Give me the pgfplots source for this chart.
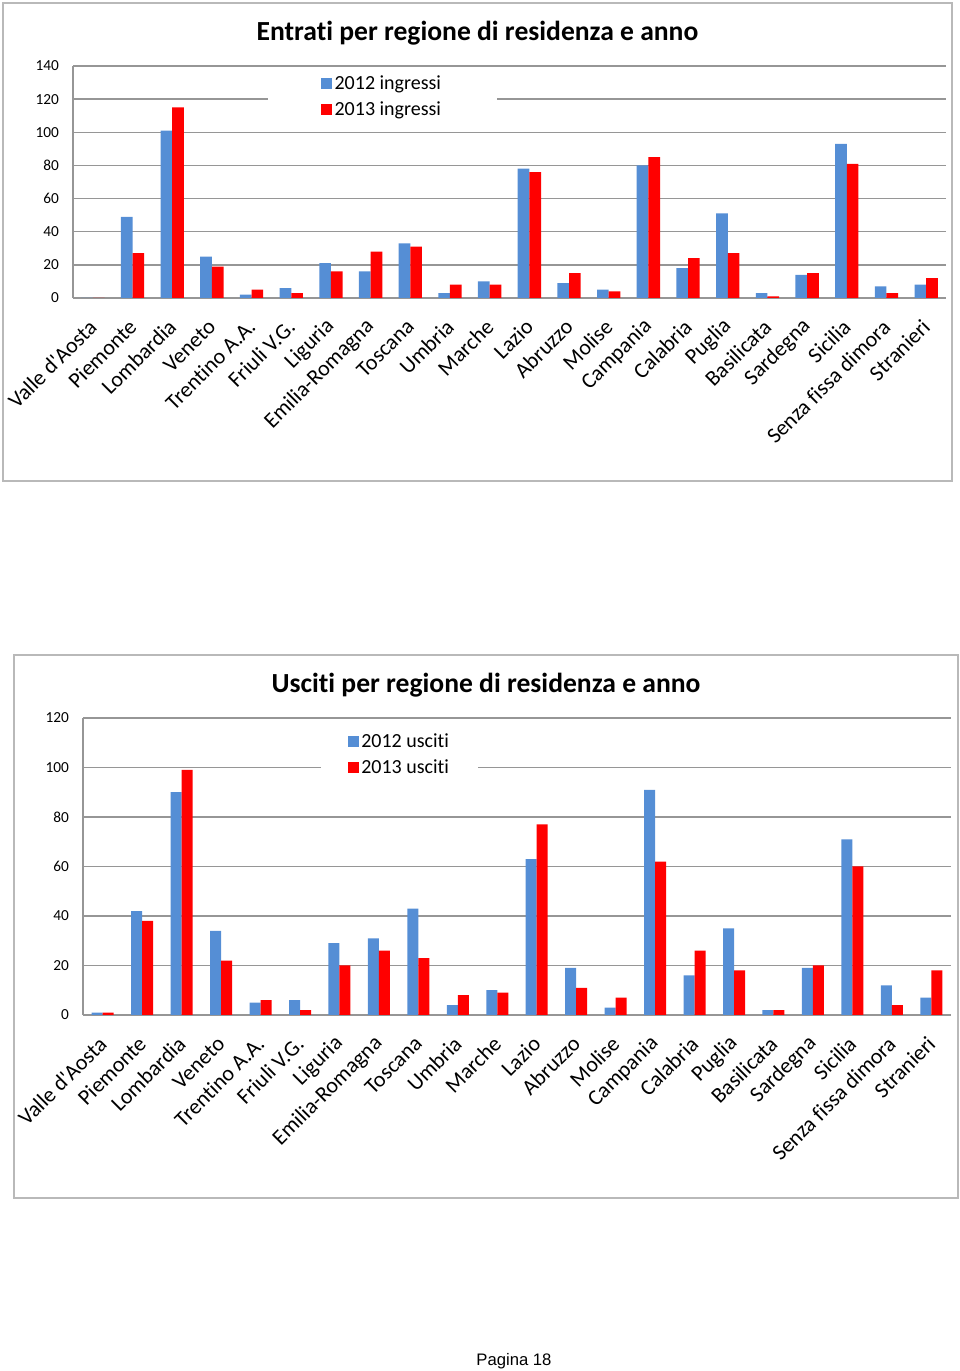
\documentclass[border=0pt]{standalone}
\usepackage{pgfplots}
\usepackage{pgfplotstable}
\pgfplotsset{compat=1.18}
\usepackage{fontspec}
\setmainfont{Carlito}[Ligatures=CommonOff]
\newfontfamily\arialfont{Liberation Sans}
\definecolor{bblue}{RGB}{85,142,213}
\definecolor{rred}{RGB}{255,0,0}
\definecolor{gridgray}{RGB}{150,150,150}
\definecolor{framegray}{RGB}{185,185,185}

\pgfplotstableread{
idx a b
0 0 0
1 49 27
2 101 115
3 25 19
4 2 5
5 6 3
6 21 16
7 16 28
8 33 31
9 3 8
10 10 8
11 78 76
12 9 15
13 5 4
14 80 85
15 18 24
16 51 27
17 3 1
18 14 15
19 93 81
20 7 3
21 8 12
}\dataA

\pgfplotstableread{
idx a b
0 1 1
1 42 38
2 90 99
3 34 22
4 5 6
5 6 2
6 29 20
7 31 26
8 43 23
9 4 8
10 10 9
11 63 77
12 19 11
13 3 7
14 91 62
15 16 26
16 35 18
17 2 2
18 19 20
19 71 60
20 12 4
21 7 18
}\dataB

\pgfplotsset{
  regstyle/.style={
    scale only axis,
    anchor=south west,
    ybar=0pt,
    xmin=-0.5, xmax=21.5,
    enlarge x limits=false,
    ymin=0,
    xtick={0,...,21},
    xticklabels={Valle d\textquotesingle Aosta,Piemonte,Lombardia,Veneto,Trentino A.A.,Friuli V.G.,Liguria,Emilia-Romagna,Toscana,Umbria,Marche,Lazio,Abruzzo,Molise,Campania,Calabria,Puglia,Basilicata,Sardegna,Sicilia,Senza fissa dimora,Stranieri},
    axis x line=bottom, axis y line=left,
    axis line style={-, draw=gridgray, line width=1pt},
    ymajorgrids, grid style={draw=gridgray, line width=1pt},
    major tick length=0pt,
    /pgf/number format/assume math mode=true,
    yticklabel style={font=\fontsize{11.5}{14}\selectfont, anchor=east, xshift=-7pt},
    xticklabel style={font=\fontsize{16.5}{19}\selectfont, xshift=2.5pt, yshift=-16.5pt, rotate=45, anchor=east},
    legend cell align=left,
    legend image code/.code={\fill[##1] (0pt,-4pt) rectangle (8pt,4pt);},
  }
}

\begin{document}
\begin{tikzpicture}
\useasboundingbox (0pt,0pt) rectangle (720pt,1028.25pt);
% frames
\draw[framegray, line width=1.5pt] (2.25pt,667.5pt) rectangle (714pt,1026pt);
\draw[framegray, line width=1.5pt] (10.5pt,129.75pt) rectangle (718.5pt,537pt);

% Chart 1
\begin{axis}[regstyle,
  at={(54.75pt,804.75pt)},
  width=654.75pt, height=174pt,
  ymax=140, ytick={0,20,...,140},
  bar width=8.75pt,
  legend style={at={(0.3545,0.8685)}, anchor=center, draw=none, fill=white,
    font=\fontsize{15}{18}\selectfont, inner xsep=40pt, inner ysep=2pt, row sep=4pt},
]
\addplot[fill=bblue, draw=none] table[x=idx, y=a] {\dataA};
\addplot[fill=rred, draw=none] table[x=idx, y=b] {\dataA};
\legend{2012 ingressi, 2013 ingressi}
\end{axis}
\node[font=\bfseries\fontsize{20.7}{24}\selectfont] at (358.1pt,1003.5pt) {Entrati per regione di residenza e anno};

% Chart 2
\begin{axis}[regstyle,
  at={(62.25pt,267pt)},
  width=651pt, height=222.75pt,
  ymax=120, ytick={0,20,...,120},
  bar width=8.25pt,
  legend style={at={(0.365,0.877)}, anchor=center, draw=none, fill=white,
    font=\fontsize{15}{18}\selectfont, inner xsep=20pt, inner ysep=2pt, row sep=4pt},
]
\addplot[fill=bblue, draw=none] table[x=idx, y=a] {\dataB};
\addplot[fill=rred, draw=none] table[x=idx, y=b] {\dataB};
\legend{2012 usciti, 2013 usciti}
\end{axis}
\node[font=\bfseries\fontsize{20.7}{24}\selectfont] at (364.5pt,514.5pt) {Usciti per regione di residenza e anno};

\node[font=\arialfont\fontsize{12.5}{15}\selectfont] at (385.5pt,7.5pt) {Pagina 18};
\end{tikzpicture}
\end{document}
